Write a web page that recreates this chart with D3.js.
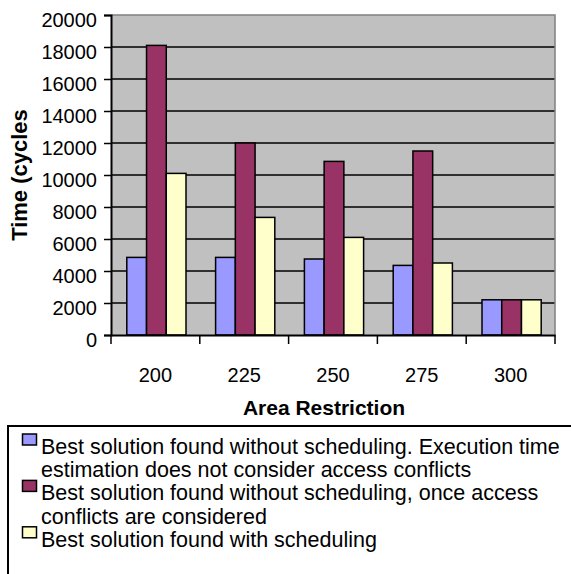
<!DOCTYPE html>
<html>
<head>
<meta charset="utf-8">
<script src="https://cdn.jsdelivr.net/npm/d3@7"></script>
<style>
  body { margin: 0; background: #fff; }
  svg { display: block; font-family: Arial, "Liberation Sans", sans-serif; }
</style>
</head>
<body>
<svg width="571" height="574"></svg>
<script>
var categories = ['200', '225', '250', '275', '300'];
var noSched = [4850, 4850, 4750, 4350, 2200];
var noSchedConflicts = [18100, 12000, 10850, 11500, 2200];
var withSched = [10100, 7350, 6100, 4500, 2200];
var yTicks = [0, 2000, 4000, 6000, 8000, 10000, 12000, 14000, 16000, 18000, 20000];
var seriesNames = [
  ['Best solution found without scheduling. Execution time', 'estimation does not consider access conflicts'],
  ['Best solution found without scheduling, once access', 'conflicts are considered'],
  ['Best solution found with scheduling']
];
var colors = ['#9999ff', '#993366', '#ffffcc'];

var series = [noSched, noSchedConflicts, withSched];

var svg = d3.select('svg');
var pLeft = 111, pRight = 555, pTop = 15, pBottom = 335;

var x = d3.scaleBand().domain(categories).range([pLeft, pRight]);
var bw = x.bandwidth();
var barW = bw / 4.5;
var gapHalf = bw * 0.75 / 4.5 + 1;
var xs = d3.scaleBand().domain([0, 1, 2]).range([gapHalf, gapHalf + 3 * barW]);
var y = d3.scaleLinear().domain([0, 20000]).range([pBottom, pTop]);

// plot background
svg.append('rect')
  .attr('x', pLeft).attr('y', pTop)
  .attr('width', pRight - pLeft).attr('height', pBottom - pTop)
  .attr('fill', '#c0c0c0');

// gridlines
svg.selectAll('line.grid')
  .data(yTicks.filter(function (d) { return d > 0 && d < 20000; }))
  .enter().append('line')
  .attr('class', 'grid')
  .attr('x1', pLeft).attr('x2', pRight)
  .attr('y1', function (d) { return y(d); })
  .attr('y2', function (d) { return y(d); })
  .attr('stroke', '#000')
  .attr('stroke-width', 1.3);

// top and right border
svg.append('path')
  .attr('d', 'M' + pLeft + ',' + y(20000) + 'H' + pRight + 'V' + pBottom)
  .attr('fill', 'none')
  .attr('stroke', '#808080')
  .attr('stroke-width', 1.5);

// bars
series.forEach(function (vals, si) {
  svg.selectAll('rect.s' + si)
    .data(vals)
    .enter().append('rect')
    .attr('class', 's' + si)
    .attr('x', function (d, i) { return x(categories[i]) + xs(si); })
    .attr('y', function (d) { return y(d); })
    .attr('width', xs.bandwidth())
    .attr('height', function (d) { return pBottom - y(d); })
    .attr('fill', colors[si])
    .attr('stroke', '#000')
    .attr('stroke-width', 1.5);
});

// y axis
var yAxis = d3.axisLeft(y).tickValues(yTicks).tickSize(7).tickPadding(7).tickFormat(d3.format('d'));
var gy = svg.append('g').attr('transform', 'translate(' + pLeft + ',0)').call(yAxis);
gy.select('.domain').attr('stroke', '#000').attr('stroke-width', 2);
gy.selectAll('.tick line').attr('stroke', '#000').attr('stroke-width', 1.5);
gy.selectAll('.tick text').attr('font-size', 20).attr('fill', '#000').attr('dy', '0.55em');

// x axis with ticks between categories
var xAxis = d3.axisBottom(x).tickSize(0).tickPadding(33);
var gx = svg.append('g').attr('transform', 'translate(0,' + pBottom + ')').call(xAxis);
gx.select('.domain').attr('stroke', '#000').attr('stroke-width', 2);
gx.selectAll('.tick text').attr('font-size', 20).attr('fill', '#000');
gx.selectAll('line.sep')
  .data(d3.range(categories.length + 1))
  .enter().append('line')
  .attr('x1', function (i) { return pLeft + i * bw; })
  .attr('x2', function (i) { return pLeft + i * bw; })
  .attr('y1', 0).attr('y2', 9)
  .attr('stroke', '#000').attr('stroke-width', 1.5);

// axis titles
svg.append('text')
  .attr('transform', 'translate(27,' + (pTop + pBottom) / 2 + ') rotate(-90)')
  .attr('text-anchor', 'middle')
  .attr('font-size', 22).attr('font-weight', 'bold')
  .text('Time (cycles');

svg.append('text')
  .attr('x', (pLeft + pRight) / 2 - 9).attr('y', 415)
  .attr('text-anchor', 'middle')
  .attr('font-size', 21).attr('font-weight', 'bold')
  .text('Area Restriction');

// legend
var lg = svg.append('g');
lg.append('rect')
  .attr('x', 8).attr('y', 426)
  .attr('width', 600).attr('height', 200)
  .attr('fill', '#fff').attr('stroke', '#000').attr('stroke-width', 2);

var lineH = 23.2, base0 = 454;
var row = 0;
seriesNames.forEach(function (lines, si) {
  var b = base0 + row * lineH;
  lg.append('rect')
    .attr('x', 22.5).attr('y', b - 20)
    .attr('width', 14).attr('height', 11)
    .attr('fill', colors[si]).attr('stroke', '#000').attr('stroke-width', 1.5);
  lines.forEach(function (t, li) {
    lg.append('text')
      .attr('x', 41).attr('y', base0 + (row + li) * lineH)
      .attr('font-size', 21.5)
      .text(t);
  });
  row += lines.length;
});
</script>
</body>
</html>
